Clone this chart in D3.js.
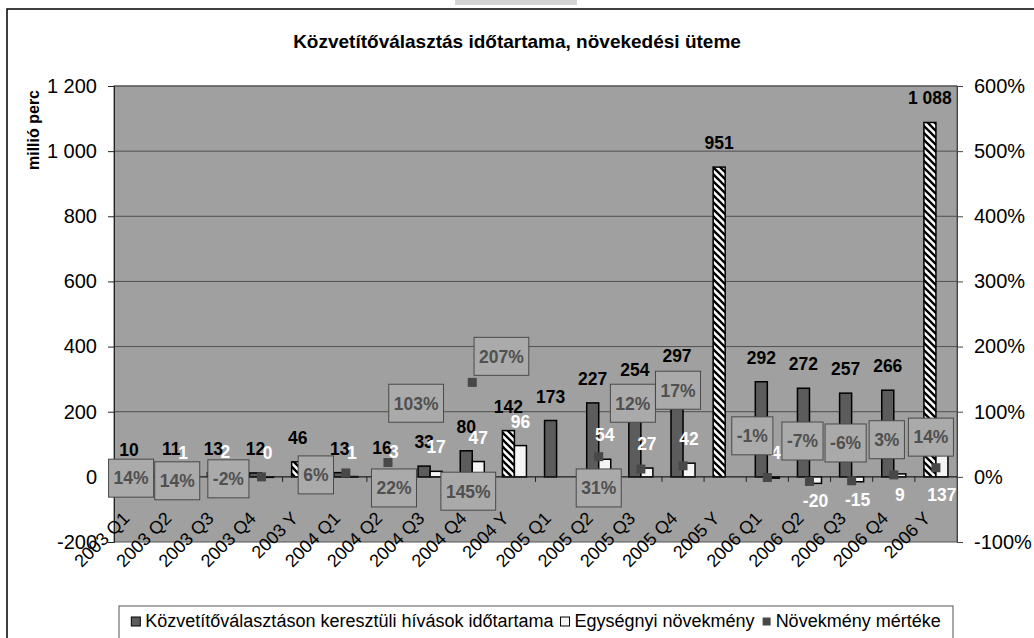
<!DOCTYPE html>
<html><head><meta charset="utf-8">
<script src="https://cdn.jsdelivr.net/npm/d3@7"></script>
<style>
body{margin:0;background:#fff}
svg{display:block}
text{font-family:"Liberation Sans",Arial,sans-serif}
</style>
</head><body>
<svg id="c" width="1034" height="638"></svg>
<script>
// ---------------- data ----------------
const categories = ["2003 Q1","2003 Q2","2003 Q3","2003 Q4","2003 Y","2004 Q1","2004 Q2","2004 Q3","2004 Q4","2004 Y","2005 Q1","2005 Q2","2005 Q3","2005 Q4","2005 Y","2006 Q1","2006 Q2","2006 Q3","2006 Q4","2006 Y"];
const duration  = [10,11,13,12,46,13,16,33,80,142,173,227,254,297,951,292,272,257,266,1088];
const increment = [null,1,2,0,null,1,3,17,47,96,null,54,27,42,null,-4,-20,-15,9,137];
const growthPct = [14,14,-2,0,null,6,22,103,145,207,null,31,12,17,null,-1,-7,-6,3,14];
const leftTicks  = [-200,0,200,400,600,800,1000,1200];
const rightTicks = [-100,0,100,200,300,400,500,600];
const seriesNames = ["Közvetítőválasztáson keresztüli hívások időtartama","Egységnyi növekmény","Növekmény mértéke"];
const chartTitle = "Közvetítőválasztás időtartama, növekedési üteme";
const yAxisTitle = "millió perc";

// ---------------- label layout (hand-moved labels, in % axis units / px nudges) ----------------
const pctBoxY  = [-2,-6,-3,null,null,3,-17,113,-22,185,null,-17,113,133,null,63,55,52,57,61];
const pctBoxDX = [-4,0,9,0,0,-30,6,-14,-4,-13,0,0,-8,-5,0,-15,-7,-6,-7,-5];
const incSide  = ["","u","u","u","","u","u","u","u","u","","u","u","u","","u","d","d","d","d"];

// ---------------- setup ----------------
const svg = d3.select("#c");
const P = {l:114, r:957, t:86, b:542};
const x  = d3.scaleBand().domain(categories).range([P.l,P.r]).padding(0);
const yL = d3.scaleLinear().domain([-200,1200]).range([P.b,P.t]);
const yR = d3.scaleLinear().domain([-100,600]).range([P.b,P.t]);
const bw = x.bandwidth()*0.285;
const cx = c => x(c) + x.bandwidth()/2;
const fmt = d3.formatLocale({decimal:",",thousands:" ",grouping:[3],currency:["",""],minus:"-"}).format(",d");
const isYear = c => /Y$/.test(c);

const defs = svg.append("defs");
const pat = defs.append("pattern").attr("id","hatch").attr("patternUnits","userSpaceOnUse")
  .attr("width",7).attr("height",7);
pat.append("rect").attr("width",7).attr("height",7).attr("fill","#fff");
pat.append("path").attr("d","M-1,-1L8,8M-1,6L1,8M6,-1L8,1").attr("stroke","#000").attr("stroke-width",2.3);

// outer frame
svg.append("rect").attr("x",455).attr("y",0).attr("width",122).attr("height",5).attr("fill","#d4d4d4");
svg.append("rect").attr("x",7).attr("y",9).attr("width",1100).attr("height",700)
  .attr("fill","none").attr("stroke","#000").attr("stroke-width",1.5);

// title
svg.append("text").attr("x",517).attr("y",48).attr("text-anchor","middle")
  .attr("font-size",19).attr("font-weight","bold").text(chartTitle);

// plot background
svg.append("rect").attr("x",P.l).attr("y",P.t).attr("width",P.r-P.l).attr("height",P.b-P.t)
  .attr("fill","#a0a0a0").attr("stroke","#555").attr("stroke-width",1);

// gridlines
svg.append("g").selectAll("line").data(leftTicks.filter(d=>d>-200)).join("line")
  .attr("x1",P.l).attr("x2",P.r).attr("y1",d=>yL(d)).attr("y2",d=>yL(d))
  .attr("stroke","#505050").attr("stroke-width",1);

// left axis
const gL = svg.append("g").attr("transform",`translate(${P.l},0)`)
  .call(d3.axisLeft(yL).tickValues(leftTicks).tickFormat(fmt).tickSize(6).tickPadding(11));
gL.select(".domain").attr("stroke","#222");
gL.selectAll(".tick line").attr("stroke","#222");
gL.selectAll("text").attr("font-size",20).attr("fill","#000").attr("font-family","Liberation Sans, Arial, sans-serif");

// right axis
const gR = svg.append("g").attr("transform",`translate(${P.r},0)`)
  .call(d3.axisRight(yR).tickValues(rightTicks).tickFormat(d=>fmt(d)+"%").tickSize(6).tickPadding(11));
gR.select(".domain").attr("stroke","#444");
gR.selectAll(".tick line").attr("stroke","#444");
gR.selectAll("text").attr("font-size",20).attr("fill","#000").attr("font-family","Liberation Sans, Arial, sans-serif");

// y axis title
svg.append("text").attr("transform","translate(39,130) rotate(-90)").attr("text-anchor","middle")
  .attr("font-size",16).attr("font-weight","bold").text(yAxisTitle);

// bars series 1
const rows = categories.map((c,i)=>({c,i,d:duration[i],inc:increment[i],p:growthPct[i]}));
svg.append("g").selectAll("rect").data(rows).join("rect")
  .attr("x",r=>cx(r.c)-bw).attr("width",bw)
  .attr("y",r=>Math.min(yL(r.d),yL(0))).attr("height",r=>Math.abs(yL(r.d)-yL(0)))
  .attr("fill",r=>isYear(r.c)?"url(#hatch)":"#5c5c5c").attr("stroke","#000").attr("stroke-width",1.5);

// bars series 2
svg.append("g").selectAll("rect").data(rows.filter(r=>r.inc!==null)).join("rect")
  .attr("x",r=>cx(r.c)).attr("width",bw)
  .attr("y",r=>Math.min(yL(r.inc),yL(0))).attr("height",r=>Math.max(0.5,Math.abs(yL(r.inc)-yL(0))))
  .attr("fill","#f4f4f4").attr("stroke","#000").attr("stroke-width",1.5);

// x axis line + ticks
svg.append("line").attr("x1",P.l).attr("x2",P.r).attr("y1",yL(0)).attr("y2",yL(0)).attr("stroke","#222");
svg.append("g").selectAll("line").data(categories.slice(1)).join("line")
  .attr("x1",c=>x(c)).attr("x2",c=>x(c)).attr("y1",yL(0)).attr("y2",yL(0)+5).attr("stroke","#222");

// markers series 3
svg.append("g").selectAll("rect").data(rows.filter(r=>r.p!==null)).join("rect")
  .attr("x",r=>cx(r.c)-4.5).attr("y",r=>yR(r.p)-4.5).attr("width",9).attr("height",9)
  .attr("fill","#484848");

// value labels series 1
svg.append("g").selectAll("text").data(rows).join("text")
  .attr("x",r=>cx(r.c)-bw/2).attr("y",r=>yL(r.d)-18).attr("text-anchor","middle")
  .attr("font-size",17.5).attr("font-weight","bold").attr("fill","#000").text(r=>fmt(r.d));

// value labels series 2
svg.append("g").selectAll("text").data(rows.filter(r=>r.inc!==null)).join("text")
  .attr("x",r=>cx(r.c)+bw/2)
  .attr("y",r=>incSide[r.i]==="d" ? Math.max(yL(r.inc),yL(0))+24 : Math.min(yL(r.inc),yL(0))-18)
  .attr("text-anchor","middle").attr("font-size",17.5).attr("font-weight","bold").attr("fill","#fff")
  .text(r=>fmt(r.inc));

// percent label boxes
const boxes = svg.append("g").selectAll("g").data(rows.filter(r=>r.p!==null && pctBoxY[r.i]!==null)).join("g")
  .attr("transform",r=>`translate(${cx(r.c)+pctBoxDX[r.i]},${yR(pctBoxY[r.i])})`);
boxes.append("text").attr("text-anchor","middle").attr("dy","0.36em")
  .attr("font-size",17.5).attr("font-weight","bold").attr("fill","#505050").text(r=>fmt(r.p)+"%");
boxes.each(function(){
  const g = d3.select(this), t = g.select("text").node();
  const w = t.getComputedTextLength()+10;
  g.insert("rect","text").attr("x",-w/2).attr("y",-19).attr("width",w).attr("height",38)
    .attr("fill","#aaaaaa").attr("stroke","#4a4a4a").attr("stroke-width",1);
});

// x axis labels
svg.append("g").selectAll("text").data(categories).join("text")
  .attr("transform",c=>`translate(${cx(c)-9},515) rotate(-45)`)
  .attr("text-anchor","end").attr("dy","0.35em").attr("font-size",18).attr("fill","#000").text(c=>c);

// legend
const LG = {l:119, r:953, t:606};
svg.append("rect").attr("x",LG.l).attr("y",LG.t).attr("width",LG.r-LG.l).attr("height",60)
  .attr("fill","#fff").attr("stroke","#555").attr("stroke-width",1);
const lg = svg.append("g");
let lx = 0;
seriesNames.forEach((n,i)=>{
  const it = lg.append("g").attr("transform",`translate(${lx},0)`);
  if(i<2) it.append("rect").attr("x",0).attr("y",-10).attr("width",9).attr("height",9)
     .attr("fill",i===0?"#5c5c5c":"#f4f4f4").attr("stroke","#000").attr("stroke-width",1);
  else it.append("rect").attr("x",1).attr("y",-9.5).attr("width",8).attr("height",8).attr("fill","#484848");
  const t = it.append("text").attr("x",14).attr("y",0).attr("font-size",18).text(n);
  lx += 14 + t.node().getComputedTextLength() + 7;
});
const lw = lx - 7;
lg.attr("transform",`translate(${(LG.l+LG.r)/2 - lw/2},627)`);
</script>
</body></html>
